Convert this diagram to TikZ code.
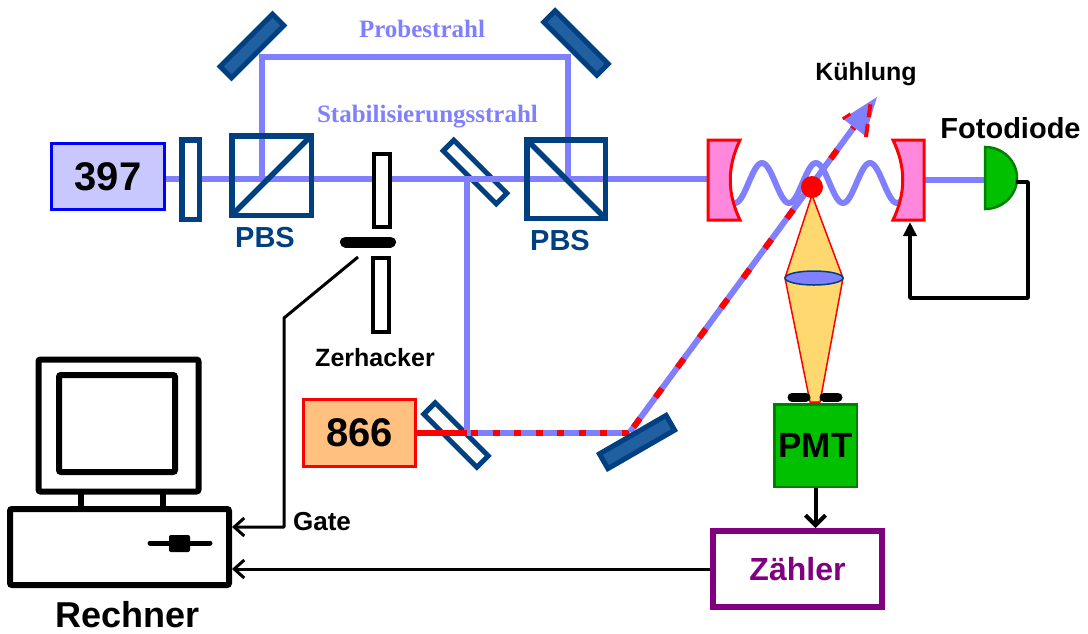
\documentclass[tikz,border=0pt]{standalone}
\usepackage{fontspec}
\setmainfont{Liberation Sans}
\newfontfamily\timesbold{Liberation Serif}
\usetikzlibrary{arrows.meta}
\definecolor{beam}{HTML}{8080FF}
\definecolor{optic}{HTML}{004080}
\definecolor{mirrorfill}{HTML}{2060A0}
\definecolor{laserblue}{HTML}{C8C8FF}
\definecolor{laserorange}{HTML}{FFC080}
\definecolor{cavpink}{HTML}{FF88DD}
\definecolor{pmtgreen}{HTML}{00C000}
\definecolor{pmtedge}{HTML}{008000}
\definecolor{counter}{HTML}{800080}
\definecolor{conefill}{HTML}{FFD970}
\newcommand\fsz[1]{\fontsize{#1}{#1}\selectfont}
\begin{document}
\begin{tikzpicture}[x=1pt,y=-1pt,
  beamline/.style={draw=beam,line width=6},
  redline/.style={draw=red,line width=6},
  mirrorplate/.style={draw=optic,fill=mirrorfill,line width=5,inner sep=0},
  splitplate/.style={draw=optic,fill=white,line width=5,inner sep=0},
  cube/.style={draw=optic,line width=5.5},
  chopplate/.style={draw=black,fill=white,line width=4},
  wire/.style={draw=black,line width=3},
  pcline/.style={draw=black,line width=6,rounded corners=2},
  lbl/.style={inner sep=0,anchor=base,font=\bfseries\fsz{25}},
  bluelbl/.style={inner sep=0,anchor=base,text=beam,font=\timesbold\bfseries\fsz{25}},
  opticlbl/.style={inner sep=0,anchor=base,text=optic,font=\bfseries\fsz{29}},
  barb/.style={-{Straight Barb[length=10,width=18]}},
]
\useasboundingbox (0,0) rectangle (1088,633);

% lasers
\node[draw=blue,fill=laserblue,line width=3,minimum width=113,minimum height=66,inner sep=0,font=\bfseries\fsz{40}] (l397) at (108,176.5) {397};
\node[draw=red,fill=laserorange,line width=3,minimum width=112,minimum height=67,inner sep=0,font=\bfseries\fsz{40}] (l866) at (359.5,433) {866};

% beam splitter plates (beams pass over them)
\node[splitplate,rotate=-45,minimum width=75,minimum height=15] (bs1) at (475,172) {};
\node[splitplate,rotate=-45,minimum width=75,minimum height=16] (bs2) at (456,435) {};

% 397 beams
\draw[beamline] (166,179) -- (708,179);
\draw[beamline,line join=miter] (262,179) -- (262,57) -- (568,57) -- (568,179);
\draw[beamline] (467,179) -- (467,433);
\draw[beamline] (924,180) -- (985,180);

% 866 beam, overlapped part striped
\draw[redline] (l866.east) -- (467,433);
\draw[beamline] (467,433) -- (630,433);
\draw[redline,dash pattern=on 7 off 14.5,dash phase=-4] (467,433) -- (630,433);

% fluorescence cone with lens
\draw[draw=red,fill=conefill,line width=1.5,line join=round]
  (812,195) -- (785,278) -- (810,402) -- (820,402) -- (843,278) -- cycle;
\draw[draw=optic,fill=beam,line width=1.5] (814,278) ellipse [x radius=29,y radius=7];

% cooling beam through the trap
\draw[beamline] (630,432) -- (854,127);
\draw[redline,dash pattern=on 11 off 26,dash phase=-6] (630,432) -- (854,127);
\fill[beam] (877,97) -- (865.2,135.8) -- (842.8,118.8) -- cycle;
\draw[red,line width=4,dash pattern=on 13 off 7] (866,137) -- (871,100);
\draw[red,line width=3] (842.8,118.8) -- (850.5,113.9);
\node[lbl] (kuehl) at (866,80) {Kühlung};

% standing wave in the cavity
\draw[beamline,line join=round] plot[domain=-35:143,samples=120,smooth]
  ({762+\x},{183-20*cos(\x*6.6667)});

% cavity mirrors
\draw[draw=red,fill=cavpink,line width=3,line join=miter]
  (708,140) -- (740,140) .. controls (727,167) and (727,193) .. (740,220) -- (708,220) -- cycle;
\draw[draw=red,fill=cavpink,line width=3,line join=miter]
  (924,140) -- (893,140) .. controls (906,167) and (906,193) .. (893,220) -- (924,220) -- cycle;
\coordinate (mRbot) at (910,222);

% ion
\node[circle,fill=red,minimum size=22,inner sep=0] (ion) at (812,187) {};

% photodiode and lock loop
\draw[draw=pmtedge,fill=pmtgreen,line width=2.5]
  (985,209) -- (985,147) .. controls (1002.7,147) and (1017,160.9) .. (1017,178)
  .. controls (1017,195.1) and (1002.7,209) .. (985,209) -- cycle;
\coordinate (pdout) at (1016,182);
\node[lbl,font=\bfseries\fsz{29}] (fd) at (1010.5,138) {Fotodiode};
\draw[draw=black,line width=3.5,line join=round,-{Triangle[length=14,width=13]}]
  (pdout) -- (1028,182) -- (1028,298) -- (910,298) -- (mRbot);

% steering mirrors
\node[mirrorplate,rotate=45,minimum width=74,minimum height=16] (m1) at (252,46) {};
\node[mirrorplate,rotate=-45,minimum width=75,minimum height=16] (m2) at (576,43) {};
\node[mirrorplate,rotate=30,minimum width=77,minimum height=17] (m3) at (637,442) {};

% wave plate and polarising cubes
\draw[draw=optic,fill=white,line width=5.5] (181.75,139.75) rectangle (199.25,219.25);
\draw[cube] (231.75,135.75) rectangle (311.25,215.25);
\draw[cube] (231.75,215.25) -- (311.25,135.75);
\draw[cube] (526.75,139.75) rectangle (605.25,218.25);
\draw[cube] (526.75,139.75) -- (605.25,218.25);
\node[opticlbl] (pbs1) at (265,247) {PBS};
\node[opticlbl] (pbs2) at (560,250) {PBS};

\node[bluelbl] (probe) at (422,37) {Probestrahl};
\node[bluelbl] (stab) at (427.5,122) {Stabilisierungsstrahl};

% chopper
\draw[chopplate] (374,154) rectangle (390,227);
\draw[chopplate] (373,258) rectangle (389,332);
\draw[black,line width=11,line cap=round] (345.5,242) -- (390.5,242);
\node[lbl,font=\bfseries\fsz{25}] (zerh) at (375,366) {Zerhacker};
\coordinate (chopwire) at (358,257);
\coordinate (gatebend) at (284,527);

% PMT and counter
\node[draw=pmtedge,fill=pmtgreen,line width=2.5,minimum width=82.5,minimum height=82.5,inner sep=0,font=\bfseries\fsz{35}] (pmt) at (815.5,445.5) {PMT};
\draw[black,line width=9,line cap=round] (792,397) -- (806,397);
\draw[black,line width=9,line cap=round] (824,397) -- (838,397);
\node[draw=counter,line width=6,minimum width=169,minimum height=76,inner sep=0,text=counter,font=\bfseries\fsz{32}] (zaehler) at (797.5,569) {Zähler};

% computer
\draw[pcline] (38.5,359.5) rectangle (198.5,491.5);
\draw[pcline] (59,375) rectangle (175,472);
\draw[black,line width=6] (81,491.5) -- (81,509) (163,491.5) -- (163,509);
\node[draw=black,line width=6,rounded corners=2,minimum width=219,minimum height=76,inner sep=0] (comp) at (119.5,547) {};
\draw[black,line width=5,line cap=round] (150,543) -- (210,543);
\fill[black,rounded corners=2] (169,535) rectangle (190,552);
\node[lbl,font=\bfseries\fsz{36}] (rechner) at (127.5,627) {Rechner};

% signal connections
\draw[wire,barb,line join=round] (chopwire) -- (284,318) -- (gatebend) -- (gatebend -| comp.east);
\node[lbl,font=\bfseries\fsz{26}] (gate) at (322,530) {Gate};
\draw[wire,barb] (zaehler.west) -- (zaehler.west -| comp.east);
\draw[draw=black,line width=4,-{Straight Barb[length=10,width=20]}] (pmt.south) -- (pmt.south |- zaehler.north);
\end{tikzpicture}
\end{document}
